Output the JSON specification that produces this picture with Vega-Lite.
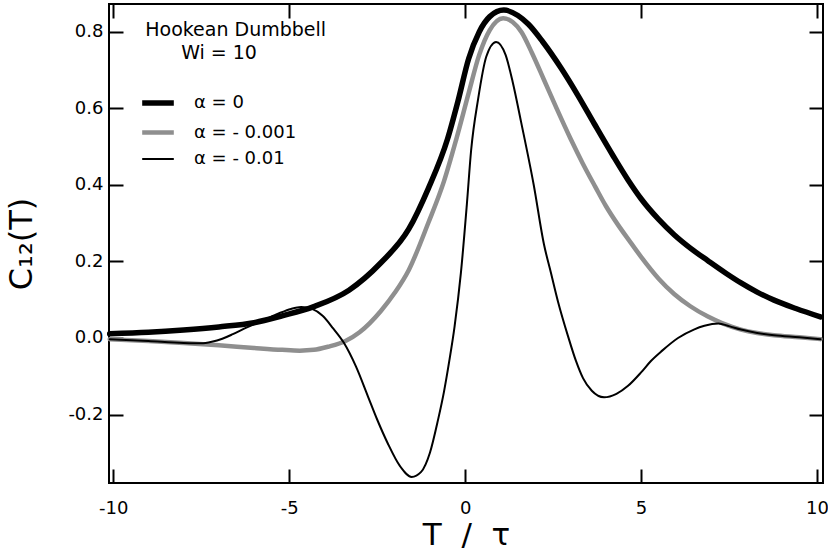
{
  "$schema": "https://vega.github.io/schema/vega-lite/v6.json",
  "width": 714,
  "height": 479,
  "autosize": "none",
  "padding": {"left": 109, "top": 4, "right": 5, "bottom": 69},
  "background": "white",
  "config": {
    "font": "DejaVu Sans",
    "view": {"stroke": "black", "strokeWidth": 2},
    "axis": {
      "domain": false, "ticks": true, "tickSize": 14, "tickWidth": 2, "tickColor": "black", "tickOpacity": 1,
      "offset": -14,
      "labelColor": "black", "labelFont": "DejaVu Sans", "labelFontSize": 18,
      "titleColor": "black", "titleFont": "DejaVu Sans", "titleFontWeight": "normal",
      "grid": false
    },
    "legend": {
      "labelFont": "DejaVu Sans", "labelFontSize": 18, "labelColor": "black",
      "labelOffset": 17, "symbolSize": 1000, "rowPadding": 0, "title": null, "padding": 0
    }
  },
  "resolve": {"axis": {"x": "independent", "y": "independent"}},
  "data": {
    "values": [
      {"curve": "α = 0", "T": -10.1, "C12": 0.011},
      {"curve": "α = 0", "T": -9, "C12": 0.015},
      {"curve": "α = 0", "T": -8, "C12": 0.021},
      {"curve": "α = 0", "T": -7, "C12": 0.029},
      {"curve": "α = 0", "T": -6, "C12": 0.040},
      {"curve": "α = 0", "T": -5.2, "C12": 0.058},
      {"curve": "α = 0", "T": -4.3, "C12": 0.082},
      {"curve": "α = 0", "T": -3.3, "C12": 0.125},
      {"curve": "α = 0", "T": -2.4, "C12": 0.196},
      {"curve": "α = 0", "T": -1.6, "C12": 0.285},
      {"curve": "α = 0", "T": -1.05, "C12": 0.39},
      {"curve": "α = 0", "T": -0.5, "C12": 0.52},
      {"curve": "α = 0", "T": -0.2, "C12": 0.62},
      {"curve": "α = 0", "T": 0.1, "C12": 0.73},
      {"curve": "α = 0", "T": 0.4, "C12": 0.80},
      {"curve": "α = 0", "T": 0.7, "C12": 0.84},
      {"curve": "α = 0", "T": 1.1, "C12": 0.857},
      {"curve": "α = 0", "T": 1.5, "C12": 0.843},
      {"curve": "α = 0", "T": 1.8, "C12": 0.82},
      {"curve": "α = 0", "T": 2.2, "C12": 0.775},
      {"curve": "α = 0", "T": 2.73, "C12": 0.705},
      {"curve": "α = 0", "T": 3.2, "C12": 0.635},
      {"curve": "α = 0", "T": 3.67, "C12": 0.56},
      {"curve": "α = 0", "T": 4.2, "C12": 0.477},
      {"curve": "α = 0", "T": 4.63, "C12": 0.413},
      {"curve": "α = 0", "T": 5.0, "C12": 0.364},
      {"curve": "α = 0", "T": 5.5, "C12": 0.31},
      {"curve": "α = 0", "T": 5.94, "C12": 0.27},
      {"curve": "α = 0", "T": 6.4, "C12": 0.235},
      {"curve": "α = 0", "T": 6.9, "C12": 0.202},
      {"curve": "α = 0", "T": 7.4, "C12": 0.17},
      {"curve": "α = 0", "T": 7.84, "C12": 0.144},
      {"curve": "α = 0", "T": 8.3, "C12": 0.12},
      {"curve": "α = 0", "T": 8.78, "C12": 0.099},
      {"curve": "α = 0", "T": 9.4, "C12": 0.077},
      {"curve": "α = 0", "T": 10.1, "C12": 0.055},

      {"curve": "α = - 0.001", "T": -10.1, "C12": -0.003},
      {"curve": "α = - 0.001", "T": -9, "C12": -0.008},
      {"curve": "α = - 0.001", "T": -8, "C12": -0.013},
      {"curve": "α = - 0.001", "T": -7, "C12": -0.019},
      {"curve": "α = - 0.001", "T": -6, "C12": -0.026},
      {"curve": "α = - 0.001", "T": -5.2, "C12": -0.031},
      {"curve": "α = - 0.001", "T": -4.7, "C12": -0.033},
      {"curve": "α = - 0.001", "T": -4.3, "C12": -0.031},
      {"curve": "α = - 0.001", "T": -3.9, "C12": -0.023},
      {"curve": "α = - 0.001", "T": -3.4, "C12": -0.008},
      {"curve": "α = - 0.001", "T": -3.0, "C12": 0.015},
      {"curve": "α = - 0.001", "T": -2.4, "C12": 0.07},
      {"curve": "α = - 0.001", "T": -2.0, "C12": 0.118},
      {"curve": "α = - 0.001", "T": -1.6, "C12": 0.178},
      {"curve": "α = - 0.001", "T": -1.05, "C12": 0.30},
      {"curve": "α = - 0.001", "T": -0.6, "C12": 0.41},
      {"curve": "α = - 0.001", "T": -0.25, "C12": 0.52},
      {"curve": "α = - 0.001", "T": 0.1, "C12": 0.64},
      {"curve": "α = - 0.001", "T": 0.4, "C12": 0.74},
      {"curve": "α = - 0.001", "T": 0.7, "C12": 0.805},
      {"curve": "α = - 0.001", "T": 1.08, "C12": 0.836},
      {"curve": "α = - 0.001", "T": 1.35, "C12": 0.826},
      {"curve": "α = - 0.001", "T": 1.6, "C12": 0.80},
      {"curve": "α = - 0.001", "T": 1.9, "C12": 0.745},
      {"curve": "α = - 0.001", "T": 2.24, "C12": 0.675},
      {"curve": "α = - 0.001", "T": 2.6, "C12": 0.60},
      {"curve": "α = - 0.001", "T": 3.0, "C12": 0.52},
      {"curve": "α = - 0.001", "T": 3.35, "C12": 0.455},
      {"curve": "α = - 0.001", "T": 3.7, "C12": 0.395},
      {"curve": "α = - 0.001", "T": 4.0, "C12": 0.345},
      {"curve": "α = - 0.001", "T": 4.35, "C12": 0.295},
      {"curve": "α = - 0.001", "T": 4.7, "C12": 0.25},
      {"curve": "α = - 0.001", "T": 5.0, "C12": 0.212},
      {"curve": "α = - 0.001", "T": 5.5, "C12": 0.155},
      {"curve": "α = - 0.001", "T": 5.94, "C12": 0.115},
      {"curve": "α = - 0.001", "T": 6.4, "C12": 0.083},
      {"curve": "α = - 0.001", "T": 6.9, "C12": 0.056},
      {"curve": "α = - 0.001", "T": 7.3, "C12": 0.039},
      {"curve": "α = - 0.001", "T": 7.84, "C12": 0.022},
      {"curve": "α = - 0.001", "T": 8.3, "C12": 0.013},
      {"curve": "α = - 0.001", "T": 8.78, "C12": 0.007},
      {"curve": "α = - 0.001", "T": 9.5, "C12": 0.002},
      {"curve": "α = - 0.001", "T": 10.1, "C12": -0.003},

      {"curve": "α = - 0.01", "T": -10.1, "C12": -0.003},
      {"curve": "α = - 0.01", "T": -9, "C12": -0.008},
      {"curve": "α = - 0.01", "T": -8, "C12": -0.013},
      {"curve": "α = - 0.01", "T": -7.5, "C12": -0.014},
      {"curve": "α = - 0.01", "T": -7.2, "C12": -0.01},
      {"curve": "α = - 0.01", "T": -6.9, "C12": -0.002},
      {"curve": "α = - 0.01", "T": -6.6, "C12": 0.01},
      {"curve": "α = - 0.01", "T": -6.2, "C12": 0.028},
      {"curve": "α = - 0.01", "T": -5.7, "C12": 0.048},
      {"curve": "α = - 0.01", "T": -5.3, "C12": 0.064},
      {"curve": "α = - 0.01", "T": -4.95, "C12": 0.076},
      {"curve": "α = - 0.01", "T": -4.66, "C12": 0.081},
      {"curve": "α = - 0.01", "T": -4.35, "C12": 0.076},
      {"curve": "α = - 0.01", "T": -4.05, "C12": 0.058},
      {"curve": "α = - 0.01", "T": -3.75, "C12": 0.025},
      {"curve": "α = - 0.01", "T": -3.45, "C12": -0.012},
      {"curve": "α = - 0.01", "T": -3.1, "C12": -0.075},
      {"curve": "α = - 0.01", "T": -2.76, "C12": -0.153},
      {"curve": "α = - 0.01", "T": -2.5, "C12": -0.213},
      {"curve": "α = - 0.01", "T": -2.2, "C12": -0.275},
      {"curve": "α = - 0.01", "T": -1.85, "C12": -0.335},
      {"curve": "α = - 0.01", "T": -1.52, "C12": -0.363},
      {"curve": "α = - 0.01", "T": -1.25, "C12": -0.35},
      {"curve": "α = - 0.01", "T": -1.0, "C12": -0.3},
      {"curve": "α = - 0.01", "T": -0.77, "C12": -0.214},
      {"curve": "α = - 0.01", "T": -0.6, "C12": -0.14},
      {"curve": "α = - 0.01", "T": -0.45, "C12": -0.06},
      {"curve": "α = - 0.01", "T": -0.3, "C12": 0.03},
      {"curve": "α = - 0.01", "T": -0.12, "C12": 0.17},
      {"curve": "α = - 0.01", "T": 0.05, "C12": 0.35},
      {"curve": "α = - 0.01", "T": 0.17, "C12": 0.49},
      {"curve": "α = - 0.01", "T": 0.37, "C12": 0.625},
      {"curve": "α = - 0.01", "T": 0.6, "C12": 0.735},
      {"curve": "α = - 0.01", "T": 0.88, "C12": 0.774},
      {"curve": "α = - 0.01", "T": 1.15, "C12": 0.74},
      {"curve": "α = - 0.01", "T": 1.35, "C12": 0.67},
      {"curve": "α = - 0.01", "T": 1.59, "C12": 0.565},
      {"curve": "α = - 0.01", "T": 1.95, "C12": 0.40},
      {"curve": "α = - 0.01", "T": 2.24, "C12": 0.245},
      {"curve": "α = - 0.01", "T": 2.44, "C12": 0.17},
      {"curve": "α = - 0.01", "T": 2.64, "C12": 0.095},
      {"curve": "α = - 0.01", "T": 2.93, "C12": 0.003},
      {"curve": "α = - 0.01", "T": 3.15, "C12": -0.06},
      {"curve": "α = - 0.01", "T": 3.35, "C12": -0.105},
      {"curve": "α = - 0.01", "T": 3.6, "C12": -0.138},
      {"curve": "α = - 0.01", "T": 3.95, "C12": -0.155},
      {"curve": "α = - 0.01", "T": 4.3, "C12": -0.146},
      {"curve": "α = - 0.01", "T": 4.63, "C12": -0.125},
      {"curve": "α = - 0.01", "T": 5.0, "C12": -0.09},
      {"curve": "α = - 0.01", "T": 5.28, "C12": -0.06},
      {"curve": "α = - 0.01", "T": 5.6, "C12": -0.033},
      {"curve": "α = - 0.01", "T": 6.05, "C12": 0.0},
      {"curve": "α = - 0.01", "T": 6.5, "C12": 0.022},
      {"curve": "α = - 0.01", "T": 6.8, "C12": 0.032},
      {"curve": "α = - 0.01", "T": 7.2, "C12": 0.038},
      {"curve": "α = - 0.01", "T": 7.5, "C12": 0.031},
      {"curve": "α = - 0.01", "T": 7.84, "C12": 0.022},
      {"curve": "α = - 0.01", "T": 8.3, "C12": 0.013},
      {"curve": "α = - 0.01", "T": 8.78, "C12": 0.007},
      {"curve": "α = - 0.01", "T": 9.5, "C12": 0.002},
      {"curve": "α = - 0.01", "T": 10.1, "C12": -0.003}
    ]
  },
  "layer": [
    {
      "mark": {"type": "line", "interpolate": "monotone", "strokeCap": "round"},
      "encoding": {
        "x": {
          "field": "T", "type": "quantitative",
          "scale": {"domain": [-10.12, 10.17], "nice": false, "zero": false},
          "axis": {
            "orient": "bottom", "values": [-10, -5, 0, 5, 10],
            "labelPadding": 16,
            "labelExpr": "datum.value < 0 ? '-' + format(-datum.value, 'd') : format(datum.value, 'd')",
            "title": "T\u00a0 /\u00a0 τ", "titleFontSize": 31, "titlePadding": 3
          }
        },
        "y": {
          "field": "C12", "type": "quantitative",
          "scale": {"domain": [-0.379, 0.873], "nice": false, "zero": false},
          "axis": {
            "orient": "left", "values": [-0.2, 0, 0.2, 0.4, 0.6, 0.8],
            "labelPadding": 6,
            "labelExpr": "datum.value < 0 ? '-' + format(-datum.value, '.1f') : format(datum.value, '.1f')",
            "title": "C₁₂(T)", "titleFontSize": 32, "titlePadding": 29
          }
        },
        "color": {
          "field": "curve", "type": "nominal",
          "scale": {"domain": ["α = 0", "α = - 0.001", "α = - 0.01"], "range": ["black", "#8f8f8f", "black"]},
          "legend": {"orient": "none", "legendX": 30, "legendY": 80}
        },
        "strokeWidth": {
          "field": "curve", "type": "nominal",
          "scale": {"type": "ordinal", "domain": ["α = 0", "α = - 0.001", "α = - 0.01"], "range": [5.5, 4.5, 2]},
          "legend": {"orient": "none", "legendX": 30, "legendY": 80}
        }
      }
    },
    {
      "data": {"values": [{}]},
      "mark": {"type": "text", "align": "left", "baseline": "alphabetic", "fontSize": 19, "font": "DejaVu Sans", "color": "black"},
      "encoding": {
        "text": {"value": "Hookean Dumbbell"},
        "x": {"datum": -9.09, "type": "quantitative", "axis": {"orient": "top", "values": [-10, -5, 0, 5, 10], "labels": false, "title": null}},
        "y": {"datum": 0.79, "type": "quantitative", "axis": {"orient": "right", "values": [-0.2, 0, 0.2, 0.4, 0.6, 0.8], "labels": false, "title": null}}
      }
    },
    {
      "data": {"values": [{}]},
      "mark": {"type": "text", "align": "left", "baseline": "alphabetic", "fontSize": 19, "font": "DejaVu Sans", "color": "black"},
      "encoding": {
        "text": {"value": "Wi = 10"},
        "x": {"datum": -8.07, "type": "quantitative", "axis": null},
        "y": {"datum": 0.729, "type": "quantitative", "axis": null}
      }
    }
  ]
}
